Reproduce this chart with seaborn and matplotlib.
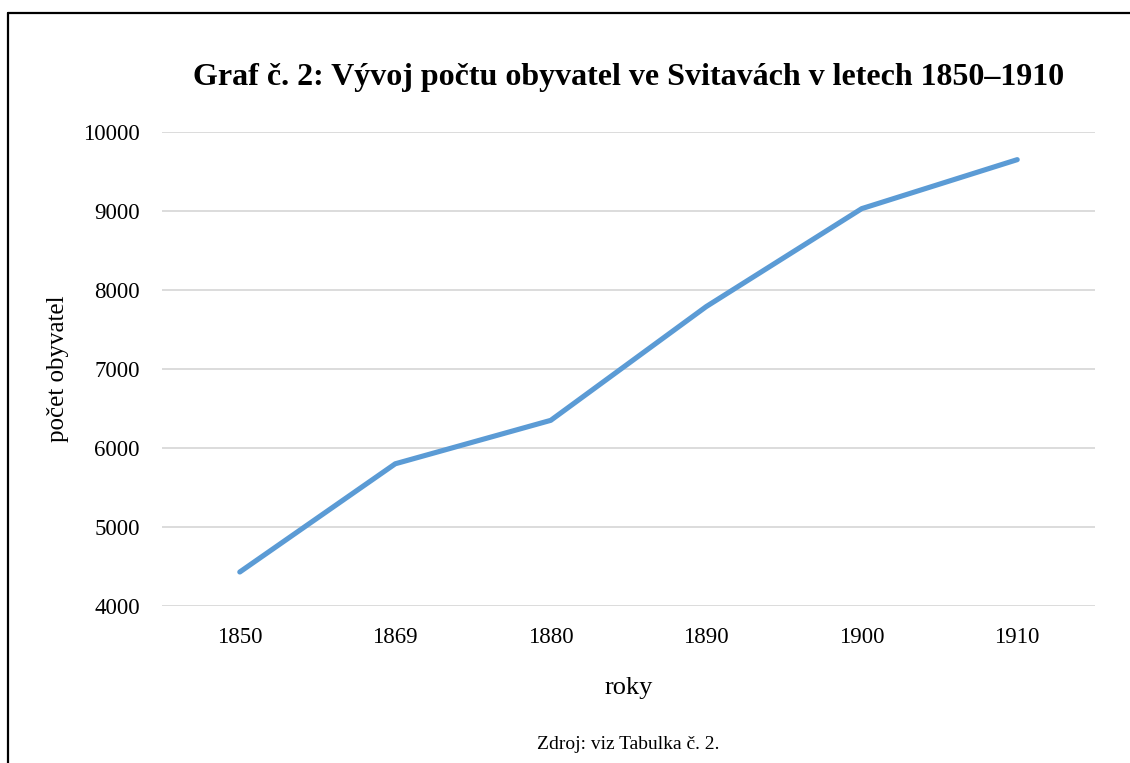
import matplotlib.pyplot as plt
import pandas as pd
import seaborn as sns
from matplotlib.lines import Line2D

# DATA
roky = ['1850', '1869', '1880', '1890', '1900', '1910']
obyvatel = [4430, 5800, 6350, 7790, 9030, 9650]
y_ticks = [4000, 5000, 6000, 7000, 8000, 9000, 10000]

df = pd.DataFrame({'roky': roky, 'obyvatel': obyvatel})

sns.set_theme(style='white')
plt.rcParams['font.family'] = ['Liberation Serif', 'DejaVu Serif']
plt.rcParams['text.color'] = 'black'
plt.rcParams['axes.labelcolor'] = 'black'

fig = plt.figure(figsize=(11.3, 7.63), dpi=100)
ax = fig.add_axes([0.1434, 0.2058, 0.9690 - 0.1434, 0.827 - 0.2058])

sns.lineplot(data=df, x='roky', y='obyvatel', color='#5B9BD5', linewidth=3.7,
             solid_capstyle='round', ax=ax)

ax.set_xlim(-0.5, len(roky) - 0.5)
ax.set_ylim(4000, 10000)
ax.set_yticks(y_ticks)
ax.yaxis.grid(True, color='#D9D9D9', linewidth=1.3)
ax.set_axisbelow(True)
for s in ax.spines.values():
    s.set_visible(False)
ax.tick_params(axis='both', length=0, labelsize=16.5, colors='black')
ax.tick_params(axis='x', pad=15)
ax.tick_params(axis='y', pad=16)

ax.set_xlabel('roky', fontsize=19, labelpad=21, color='black')
ax.set_ylabel('počet obyvatel', fontsize=18, labelpad=10, color='black')
ax.set_title('Graf č. 2: Vývoj počtu obyvatel ve Svitavách v letech 1850–1910',
             fontsize=23, fontweight='bold', pad=34, color='black')

fig.text(0.556, 0.024, 'Zdroj: viz Tabulka č. 2.', ha='center', va='center',
         fontsize=14, color='black')

# frame around the chart (top and left edges visible)
fig.add_artist(Line2D([0.0071, 1.0], [0.983, 0.983], transform=fig.transFigure,
                      color='black', linewidth=1.6))
fig.add_artist(Line2D([0.0071, 0.0071], [0.0, 0.983], transform=fig.transFigure,
                      color='black', linewidth=1.6))

fig.savefig('out.png', dpi=100)
